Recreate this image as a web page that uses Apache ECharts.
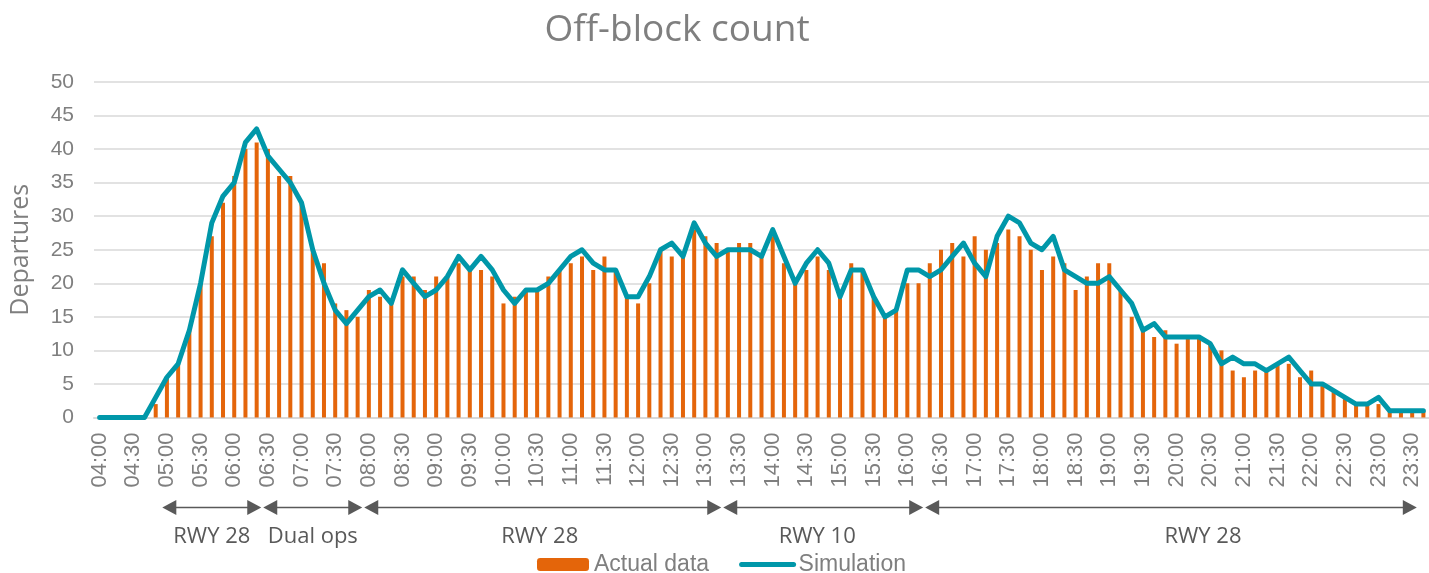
<!DOCTYPE html>
<html>
<head>
<meta charset="utf-8">
<script src="https://cdn.jsdelivr.net/npm/echarts@6/dist/echarts.min.js"></script>
<style>
  html, body { margin: 0; padding: 0; background: #fff; }
  #offBlock { width: 1429px; height: 573px; }
</style>
</head>
<body>
<div id="offBlock"></div>
<script>
// 10-minute slots, 04:00 .. 23:40
const timeSlots = [
  '04:00','04:10','04:20','04:30','04:40','04:50',
  '05:00','05:10','05:20','05:30','05:40','05:50',
  '06:00','06:10','06:20','06:30','06:40','06:50',
  '07:00','07:10','07:20','07:30','07:40','07:50',
  '08:00','08:10','08:20','08:30','08:40','08:50',
  '09:00','09:10','09:20','09:30','09:40','09:50',
  '10:00','10:10','10:20','10:30','10:40','10:50',
  '11:00','11:10','11:20','11:30','11:40','11:50',
  '12:00','12:10','12:20','12:30','12:40','12:50',
  '13:00','13:10','13:20','13:30','13:40','13:50',
  '14:00','14:10','14:20','14:30','14:40','14:50',
  '15:00','15:10','15:20','15:30','15:40','15:50',
  '16:00','16:10','16:20','16:30','16:40','16:50',
  '17:00','17:10','17:20','17:30','17:40','17:50',
  '18:00','18:10','18:20','18:30','18:40','18:50',
  '19:00','19:10','19:20','19:30','19:40','19:50',
  '20:00','20:10','20:20','20:30','20:40','20:50',
  '21:00','21:10','21:20','21:30','21:40','21:50',
  '22:00','22:10','22:20','22:30','22:40','22:50',
  '23:00','23:10','23:20','23:30','23:40'
];

// observed off-blocks per slot
const actualData = [
  0, 0, 0, 0, 0, 2,
  6, 8, 13, 20, 27, 32,
  36, 40, 41, 40, 36, 36,
  32, 25, 23, 17, 16, 15,
  19, 18, 17, 21, 21, 19,
  21, 21, 23, 22, 22, 21,
  17, 18, 19, 19, 21, 22,
  23, 24, 22, 24, 22, 18,
  17, 20, 25, 24, 24, 28,
  27, 26, 25, 26, 26, 24,
  27, 23, 20, 22, 24, 22,
  18, 23, 22, 18, 15, 16,
  20, 20, 23, 25, 26, 24,
  27, 25, 26, 28, 27, 25,
  22, 24, 23, 19, 21, 23,
  23, 19, 15, 13, 12, 13,
  11, 12, 12, 11, 10, 7,
  6, 7, 7, 8, 8, 6,
  7, 5, 4, 3, 2, 2,
  2, 1, 1, 1, 1
];

// simulated off-blocks per slot
const simulationData = [
  0, 0, 0, 0, 0, 3,
  6, 8, 13, 20, 29, 33,
  35, 41, 43, 39, 37, 35,
  32, 25, 20, 16, 14, 16,
  18, 19, 17, 22, 20, 18,
  19, 21, 24, 22, 24, 22,
  19, 17, 19, 19, 20, 22,
  24, 25, 23, 22, 22, 18,
  18, 21, 25, 26, 24, 29,
  26, 24, 25, 25, 25, 24,
  28, 24, 20, 23, 25, 23,
  18, 22, 22, 18, 15, 16,
  22, 22, 21, 22, 24, 26,
  23, 21, 27, 30, 29, 26,
  25, 27, 22, 21, 20, 20,
  21, 19, 17, 13, 14, 12,
  12, 12, 12, 11, 8, 9,
  8, 8, 7, 8, 9, 7,
  5, 5, 4, 3, 2, 2,
  3, 1, 1, 1, 1
];

// runway configuration periods shown under the axis
const runwayLabels = ['RWY 28', 'Dual ops', 'RWY 28', 'RWY 10', 'RWY 28'];
const runwayStart  = ['05:00', '06:30', '08:00', '13:20', '16:20'];
const runwayEnd    = ['06:30', '08:00', '13:20', '16:20', '23:40'];

const labelShift = [0, 0, -3, -6, 32];

const grey = '#7f7f7f';
const dark = '#595959';
const orange = '#e4650a';
const teal = '#0097a9';

let myChart = echarts.init(document.getElementById('offBlock'));

let option = {
  animation: false,
  title: {
    text: 'Off-block count',
    left: 672,
    textAlign: 'center',
    top: 7,
    textStyle: { fontFamily: 'Open Sans', fontSize: 37, fontWeight: 'normal', color: grey }
  },
  legend: {
    left: 537,
    top: 553,
    padding: 0,
    itemWidth: 52,
    itemHeight: 13,
    itemGap: 30,
    textStyle: { fontFamily: 'Liberation Sans', fontSize: 23, color: grey, padding: [0, 0, 0, 0] },
    data: [
      { name: 'Actual data' },
      {
        name: 'Simulation',
        itemStyle: { opacity: 0 },
        lineStyle: { color: teal, width: 5, cap: 'round' }
      }
    ]
  },
  grid: { left: 94, right: 0, top: 82, bottom: 155.5, containLabel: false },
  xAxis: {
    type: 'category',
    data: timeSlots,
    boundaryGap: true,
    axisLine: { lineStyle: { color: '#d9d9d9', width: 2 } },
    axisTick: { show: false },
    axisLabel: {
      interval: 2,
      rotate: 90,
      margin: 15,
      color: grey,
      fontFamily: 'Liberation Sans',
      fontSize: 22
    }
  },
  yAxis: {
    type: 'value',
    min: 0,
    max: 50,
    interval: 5,
    name: 'Departures',
    nameLocation: 'middle',
    nameGap: 61,
    nameTextStyle: { fontFamily: 'Open Sans', fontSize: 25, color: grey },
    axisLine: { show: false },
    axisTick: { show: false },
    axisLabel: { margin: 20, color: grey, fontFamily: 'Liberation Sans', fontSize: 21 },
    splitLine: { lineStyle: { color: '#d9d9d9', width: 1.5 } }
  },
  series: [
    {
      name: 'Actual data',
      type: 'bar',
      data: actualData,
      barWidth: 4,
      itemStyle: { color: orange }
    },
    {
      name: 'Simulation',
      type: 'line',
      data: simulationData,
      symbol: 'none',
      lineStyle: { color: teal, width: 5, join: 'round', cap: 'round' },
      itemStyle: { color: teal }
    }
  ]
};

myChart.setOption(option);

// runway arrows, placed from the category axis
function drawRunways() {
  const c0 = myChart.convertToPixel({ xAxisIndex: 0 }, timeSlots[0]);
  const c1 = myChart.convertToPixel({ xAxisIndex: 0 }, timeSlots[1]);
  const half = (c1 - c0) / 2;
  const y = 507.5;
  const head = 14, hh = 7.5;
  let els = [];
  for (let i = 0; i < runwayLabels.length; i++) {
    const x1 = myChart.convertToPixel({ xAxisIndex: 0 }, runwayStart[i]) - half + 1;
    const x2 = myChart.convertToPixel({ xAxisIndex: 0 }, runwayEnd[i]) - half - 1;
    els.push({
      type: 'line', silent: true,
      shape: { x1: x1 + head - 2, y1: y, x2: x2 - head + 2, y2: y },
      style: { stroke: dark, lineWidth: 1.5 }
    });
    els.push({
      type: 'polygon', silent: true,
      shape: { points: [[x1, y], [x1 + head, y - hh], [x1 + head, y + hh]] },
      style: { fill: dark }
    });
    els.push({
      type: 'polygon', silent: true,
      shape: { points: [[x2, y], [x2 - head, y - hh], [x2 - head, y + hh]] },
      style: { fill: dark }
    });
    els.push({
      type: 'text', silent: true,
      x: (x1 + x2) / 2 + labelShift[i], y: 537,
      style: {
        text: runwayLabels[i], fill: dark,
        font: '22px "Open Sans"', align: 'center', verticalAlign: 'middle'
      }
    });
  }
  myChart.setOption({ graphic: els });
}
drawRunways();

window.addEventListener('resize', function () {
  myChart.resize();
  drawRunways();
});
</script>
</body>
</html>
